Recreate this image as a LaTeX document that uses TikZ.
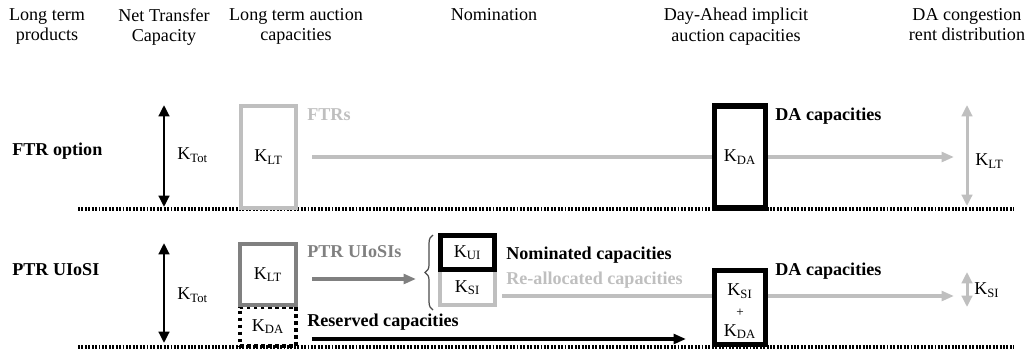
\documentclass[tikz,border=0pt]{standalone}
\usepackage{fontspec}
\setmainfont{Liberation Serif}
\usepackage{xcolor}
\usepackage{tikz}
\usetikzlibrary{arrows.meta,decorations.pathreplacing}
\definecolor{lightg}{gray}{0.75}
\definecolor{midg}{gray}{0.5}

\begin{document}
\begin{tikzpicture}[x=0.02cm, y=-0.02cm,
    every node/.style={inner sep=0pt, font=\fontsize{10.3}{11.5}\selectfont},
    head/.style={align=center, anchor=north},
    lbl/.style={anchor=west, font=\fontsize{10.3}{11.5}\selectfont\bfseries},
    box/.style={draw, line width=2.3pt, minimum width=1.1cm},
    dabox/.style={draw, line width=3pt, minimum width=1.02cm},
    resbox/.style={draw, line width=2.2pt, dash pattern=on 2pt off 2pt, minimum width=1.12cm},
    base/.style={line width=1.8pt, dash pattern=on 1.1pt off 0.85pt},
    link/.style={line width=2pt},
    flow/.style={line width=2pt, -{Triangle[length=7pt,width=5.5pt]}},
    both/.style={line width=1.7pt, {Triangle[length=6.5pt,width=6pt]}-{Triangle[length=6.5pt,width=6pt]}}]
    \useasboundingbox (0,0) rectangle (1032,359);
    \node[head] (h1) at (47,8) {Long term\\products};
    \node[head] (h2) at (164,8) {Net Transfer\\Capacity};
    \node[head] (h3) at (296,8) {Long term auction\\capacities};
    \node[head] (h4) at (494,8) {Nomination};
    \node[head] (h5) at (736,8) {Day-Ahead implicit\\auction capacities};
    \node[head] (h6) at (967,8) {DA congestion\\rent distribution};
    \node[lbl] (ftr) at (12,151.5) {FTR option};
    \node[lbl] (ptr) at (12,270) {PTR UIoSI};
    \coordinate (fb1) at (78,209);
    \coordinate (fb2) at (1014,209);
    \coordinate (pb1) at (78,347);
    \coordinate (pb2) at (1014,347);
    \draw[base] (fb1) -- (fb2);
    \draw[base] (pb1) -- (pb2);
    \coordinate (ftrT1) at (164,105);
    \coordinate (ftrT2) at (164,207);
    \draw[both] (ftrT1) -- (ftrT2);
    \node[anchor=west] (ftrTot) at (177,155) {K\textsubscript{Tot}};
    \node[box, lightg, text=black, minimum height=2.04cm] (ftrLT) at (268.5,157) {K\textsubscript{LT}};
    \node[dabox, minimum height=2.04cm] (ftrDA) at (740,157) {K\textsubscript{DA}};
    \node[lbl, lightg] (ftrName) at (307,115) {FTRs};
    \node[lbl] (ftrDAname) at (775,116.5) {DA capacities};
    \coordinate (ftrEnd) at (954,157);
    \draw[link, lightg, shorten <=8pt] (ftrLT) -- (ftrDA);
    \draw[flow, lightg] (ftrDA) -- (ftrEnd);
    \coordinate (ftrR1) at (967,105);
    \coordinate (ftrR2) at (967,206);
    \draw[both, lightg] (ftrR1) -- (ftrR2);
    \node[anchor=west] (ftrRent) at (975,161) {K\textsubscript{LT}};
    \coordinate (ptrT1) at (164,243);
    \coordinate (ptrT2) at (164,343);
    \draw[both] (ptrT1) -- (ptrT2);
    \node[anchor=west] (ptrTot) at (177,295) {K\textsubscript{Tot}};
    \node[resbox, minimum height=0.78cm] (ptrRes) at (268,326.5) {K\textsubscript{DA}};
    \node[box, midg, text=black, minimum width=1.12cm, minimum height=1.22cm] (ptrLT) at (268,274.5) {K\textsubscript{LT}};
    \node[lbl, midg] (ptrName) at (307,252) {PTR UIoSIs};
    \node[lbl] (resName) at (307,322.5) {Reserved capacities};
    \node[box, lightg, text=black, minimum height=0.7cm] (ptrSI) at (467.5,287.5) {K\textsubscript{SI}};
    \node[dabox, minimum width=1.08cm, minimum height=0.68cm] (ptrUI) at (467.5,252.5) {K\textsubscript{UI}};
    \coordinate (brB) at (433,310);
    \coordinate (brT) at (433,235);
    \draw[decorate, decoration={brace, amplitude=4.5pt}, line width=0.7pt, black!70] (brB) -- (brT);
    \node[lbl] (nomName) at (506,255.5) {Nominated capacities};
    \node[lbl, lightg] (reName) at (506,280.5) {Re-allocated capacities};
    \coordinate (nomEnd) at (416,279);
    \draw[flow, midg, shorten <=8pt] (ptrLT.east |- nomEnd) -- (nomEnd);
    \node[dabox, minimum height=1.48cm] (ptrDA) at (740,307.5) {};
    \node[align=center] (ptrDAtxt) at (740,311.5) {K\textsubscript{SI}\\{\fontsize{7.5}{7.5}\selectfont +}\\K\textsubscript{DA}};
    \node[lbl] (ptrDAname) at (775,271.5) {DA capacities};
    \coordinate (ptrEnd) at (954,296);
    \draw[link, lightg, shorten <=3pt] (ptrSI.east |- ptrEnd) -- (ptrDA.west |- ptrEnd);
    \draw[flow, lightg] (ptrDA.east |- ptrEnd) -- (ptrEnd);
    \coordinate (resEnd) at (686,339);
    \draw[flow, line width=2.3pt, shorten <=8pt] (ptrRes.east |- resEnd) -- (resEnd);
    \coordinate (ptrR1) at (967,272);
    \coordinate (ptrR2) at (967,307);
    \draw[both, lightg] (ptrR1) -- (ptrR2);
    \node[anchor=west] (ptrRent) at (974,290) {K\textsubscript{SI}};
\end{tikzpicture}
\end{document}
